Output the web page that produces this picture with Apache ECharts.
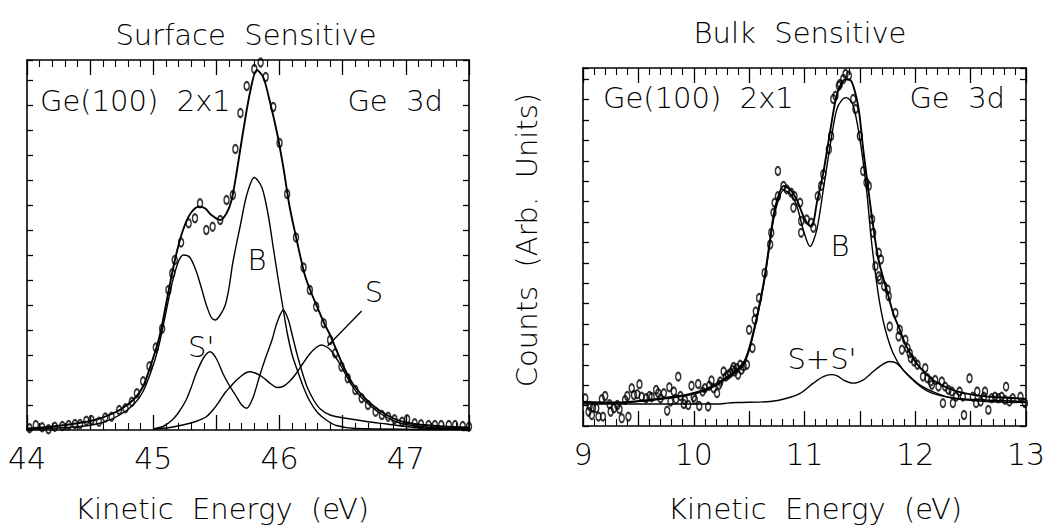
<!DOCTYPE html>
<html>
<head>
<meta charset="utf-8">
<script src="https://cdn.jsdelivr.net/npm/echarts@6/dist/echarts.min.js"></script>
<style>
  html, body { margin: 0; padding: 0; background: #fff; }
  #chart { width: 1057px; height: 526px; }
</style>
</head>
<body>
<div id="chart"></div>
<script>
// Ge 3d core-level photoemission from Ge(100) 2x1, measured at a surface-sensitive
// and a bulk-sensitive photon energy. Each panel: measured counts (open markers),
// total fit, and the fitted spin-orbit doublets.

// ---- Surface-sensitive panel: kinetic energy (eV) vs counts (arb.) ----
const surfaceRange = [44, 47.5];
const surfaceCountsMax = 14.8;

const surfaceData = [
  [44.02,0.07],[44.07,0.2],[44.12,0.11],[44.17,0.03],[44.22,0.13],[44.28,0.16],[44.33,0.2],
  [44.38,0.24],[44.42,0.24],[44.47,0.37],[44.51,0.4],[44.57,0.33],[44.62,0.5],[44.67,0.53],
  [44.73,0.8],[44.78,0.87],[44.83,1.13],[44.87,1.47],[44.92,1.95],[44.97,2.55],[45.02,3.3],
  [45.07,4.05],[45.12,5.6],[45.15,6.27],[45.17,6.8],[45.22,7.5],[45.28,8.27],[45.33,8.47],
  [45.37,9.07],[45.42,8.0],[45.47,8.13],[45.53,8.4],[45.58,9.2],[45.63,9.4],[45.65,11.24],
  [45.69,12.68],[45.74,13.76],[45.80,14.44],[45.85,14.7],[45.89,14.12],[45.95,12.92],
  [46.00,11.48],[46.06,9.44],[46.13,7.7],[46.19,6.5],[46.24,5.6],[46.29,4.93],[46.35,4.27],
  [46.40,3.6],[46.44,3.07],[46.49,2.53],[46.54,2.07],[46.60,1.6],[46.65,1.27],[46.70,1.0],
  [46.76,0.73],[46.81,0.6],[46.86,0.53],[46.91,0.43],[46.97,0.33],[47.01,0.43],[47.07,0.27],
  [47.12,0.23],[47.18,0.2],[47.23,0.2],[47.28,0.2],[47.34,0.2],[47.39,0.2],[47.45,0.16],[47.50,0.13]
];

const surfaceFit = [
  [44.00,0.06],[44.20,0.14],[44.40,0.27],[44.55,0.42],[44.65,0.6],[44.75,0.85],[44.85,1.25],
  [44.92,1.75],[45.00,2.9],[45.05,3.75],[45.10,5.0],[45.15,6.3],[45.20,7.4],[45.25,8.2],
  [45.30,8.7],[45.36,8.93],[45.41,8.87],[45.46,8.6],[45.53,8.4],[45.58,8.67],[45.62,9.2],
  [45.66,10.3],[45.71,11.9],[45.77,13.6],[45.82,14.4],[45.87,14.12],[45.92,13.2],[45.98,11.88],
  [46.03,10.5],[46.08,8.92],[46.14,7.5],[46.20,6.2],[46.25,5.5],[46.30,4.9],[46.35,4.3],
  [46.40,3.8],[46.45,3.2],[46.50,2.6],[46.55,2.1],[46.60,1.7],[46.70,1.15],[46.80,0.75],
  [46.90,0.47],[47.00,0.3],[47.10,0.22],[47.30,0.14],[47.50,0.1]
];

const surfaceB = [
  [44.00,0.03],[44.40,0.13],[44.60,0.3],[44.75,0.65],[44.85,1.05],[44.92,1.55],[45.00,2.6],
  [45.05,3.5],[45.10,4.7],[45.15,5.9],[45.20,6.75],[45.24,7.0],[45.29,6.9],[45.34,6.35],
  [45.38,5.7],[45.42,5.0],[45.46,4.5],[45.49,4.4],[45.53,4.6],[45.57,5.0],[45.60,5.7],
  [45.63,6.7],[45.69,8.2],[45.74,9.4],[45.80,10.1],[45.86,9.7],[45.91,8.6],[45.95,7.3],
  [45.99,6.0],[46.02,5.1],[46.06,3.9],[46.10,3.0],[46.14,2.4],[46.19,1.7],[46.24,1.15],
  [46.30,0.7],[46.37,0.4],[46.45,0.18],[46.60,0.06],[47.50,0.02]
];

const surfaceSPrime = [
  [45.00,0.04],[45.08,0.15],[45.15,0.4],[45.20,0.7],[45.26,1.2],[45.30,1.7],[45.34,2.27],
  [45.40,2.9],[45.45,3.13],[45.50,2.85],[45.55,2.27],[45.60,1.8],[45.65,1.4],[45.70,1.0],
  [45.74,0.87],[45.79,1.3],[45.84,2.13],[45.89,2.9],[45.94,3.6],[45.98,4.3],[46.03,4.8],
  [46.07,4.4],[46.10,3.8],[46.14,3.0],[46.18,2.3],[46.22,1.7],[46.27,1.2],[46.32,0.85],
  [46.40,0.6],[46.55,0.45],[46.70,0.33],[46.85,0.24],[47.00,0.14],[47.20,0.06],[47.50,0.03]
];

const surfaceS = [
  [45.00,0.03],[45.13,0.1],[45.25,0.22],[45.33,0.33],[45.42,0.53],[45.48,0.85],[45.53,1.2],
  [45.57,1.5],[45.61,1.73],[45.65,1.95],[45.69,2.13],[45.73,2.28],[45.77,2.33],[45.82,2.25],
  [45.87,2.1],[45.93,1.85],[45.98,1.7],[46.03,1.75],[46.08,1.95],[46.13,2.25],[46.19,2.7],
  [46.24,3.05],[46.29,3.3],[46.33,3.4],[46.38,3.3],[46.42,3.1],[46.47,2.7],[46.52,2.25],
  [46.57,1.8],[46.62,1.45],[46.70,1.05],[46.80,0.65],[46.90,0.38],[47.00,0.22],[47.20,0.1],[47.50,0.05]
];

// ---- Bulk-sensitive panel ----
const bulkRange = [9, 13];
const bulkCountsMax = 17.55;

const bulkData = [
  [9.02,1.36],[9.06,0.98],[9.05,0.70],[9.09,0.90],[9.08,0.54],[9.14,0.46],[9.18,0.46],[9.12,0.87],
  [9.17,1.31],[9.20,1.47],[9.24,1.07],[9.25,0.70],[9.28,0.87],[9.31,1.03],[9.33,0.82],[9.35,0.38],
  [9.41,0.46],[9.38,1.28],[9.40,1.47],[9.44,1.85],[9.46,1.52],[9.49,1.56],[9.51,2.05],[9.53,1.44],
  [9.57,1.36],[9.60,1.47],[9.62,1.41],[9.66,1.77],[9.68,1.61],[9.70,1.36],[9.73,1.61],[9.76,0.75],
  [9.78,1.90],[9.79,1.20],[9.82,1.69],[9.84,1.31],[9.86,2.42],[9.88,1.47],[9.91,1.08],[9.92,1.28],
  [9.95,1.03],[9.98,1.97],[10.00,1.41],[10.01,1.28],[10.04,2.06],[10.05,0.98],[10.08,1.69],
  [10.10,1.85],[10.13,0.95],[10.14,1.97],[10.16,2.23],[10.18,1.85],[10.21,1.61],[10.23,2.02],
  [10.24,2.18],[10.27,2.67],[10.29,2.42],[10.31,2.51],[10.33,2.59],[10.35,2.75],[10.36,2.89],
  [10.37,2.67],[10.39,2.84],[10.40,2.51],[10.42,3.0],[10.43,2.75],[10.45,2.92],[10.48,3.0],
  [10.50,4.72],[10.53,3.82],[10.55,5.21],[10.56,5.62],[10.59,6.28],[10.64,7.5],[10.69,8.9],
  [10.70,9.47],[10.72,10.46],[10.73,10.95],[10.76,11.27],[10.76,12.5],[10.81,11.77],[10.84,11.6],
  [10.88,11.44],[10.91,11.27],[10.90,10.7],[10.96,10.95],[10.97,10.05],[11.02,10.13],[11.06,9.97],
  [10.97,9.47],[11.08,9.72],[11.12,11.27],[11.15,11.77],[11.17,12.34],[11.22,13.57],[11.24,14.22],
  [11.26,16.03],[11.28,16.19],[11.31,16.68],[11.32,16.77],[11.35,17.01],[11.37,17.26],[11.40,17.17],
  [11.41,17.66],[11.44,16.03],[11.46,15.54],[11.50,14.22],[11.53,12.5],[11.56,11.93],[11.58,11.77],
  [11.61,10.13],[11.62,9.47],[11.64,7.83],[11.67,8.49],[11.67,7.34],[11.69,8.16],[11.68,7.18],
  [11.72,6.85],[11.75,6.69],[11.76,6.36],[11.77,4.88],[11.82,5.54],[11.86,4.72],[11.85,4.39],
  [11.91,4.23],[11.88,3.74],[11.93,3.82],[11.95,3.57],[11.96,3.33],[11.99,3.16],[12.02,3.0],
  [12.09,2.84],[12.07,2.42],[12.11,2.34],[12.14,2.18],[12.15,2.02],[12.18,2.26],[12.21,1.93],
  [12.24,2.18],[12.27,1.93],[12.30,1.77],[12.33,1.69],[12.25,1.12],[12.34,1.12],[12.37,1.44],
  [12.40,1.69],[12.43,1.44],[12.44,0.54],[12.49,2.34],[12.52,1.44],[12.55,1.12],[12.56,1.69],
  [12.59,1.2],[12.62,1.44],[12.63,1.69],[12.66,0.79],[12.69,1.36],[12.72,1.44],[12.75,1.36],
  [12.78,1.44],[12.81,1.28],[12.82,1.93],[12.85,1.2],[12.88,1.36],[12.95,1.44],[12.99,1.12]
];

const bulkFit = [
  [9.00,1.18],[9.30,1.15],[9.60,1.28],[9.80,1.42],[9.95,1.55],[10.10,1.78],[10.20,2.05],
  [10.30,2.4],[10.39,2.75],[10.45,3.1],[10.50,3.8],[10.56,5.1],[10.61,6.4],[10.64,7.3],
  [10.68,8.8],[10.72,10.3],[10.76,11.2],[10.81,11.77],[10.87,11.6],[10.93,11.1],[10.99,10.29],
  [11.05,9.8],[11.08,9.97],[11.11,10.9],[11.17,12.42],[11.23,14.39],[11.29,16.19],[11.35,16.93],
  [11.40,17.0],[11.44,16.68],[11.49,15.5],[11.53,13.57],[11.58,11.44],[11.62,9.8],[11.67,8.1],
  [11.75,6.52],[11.80,5.54],[11.86,4.72],[11.92,3.9],[12.01,3.08],[12.09,2.59],[12.18,2.18],
  [12.30,1.85],[12.44,1.61],[12.65,1.44],[12.91,1.36],[13.00,1.33]
];

const bulkB = [
  [9.00,1.15],[9.30,1.13],[9.60,1.25],[9.80,1.38],[9.95,1.5],[10.10,1.72],[10.20,1.98],
  [10.30,2.33],[10.39,2.67],[10.45,3.0],[10.50,3.7],[10.56,5.0],[10.61,6.3],[10.64,7.2],
  [10.68,8.65],[10.72,10.1],[10.76,11.0],[10.81,11.55],[10.87,11.4],[10.93,10.8],[10.99,9.6],
  [11.05,8.8],[11.11,9.6],[11.17,11.6],[11.23,13.7],[11.29,15.5],[11.34,16.0],[11.38,16.1],
  [11.44,15.7],[11.50,14.06],[11.56,11.6],[11.60,9.3],[11.64,7.5],[11.68,6.0],[11.73,4.72],
  [11.80,3.57],[11.89,2.75],[12.01,2.1],[12.12,1.69],[12.27,1.44],[12.47,1.31],[12.79,1.24],[13.00,1.2]
];

const bulkSurface = [
  [9.00,1.08],[10.24,1.08],[10.30,1.12],[10.39,1.15],[10.69,1.2],[10.84,1.36],[10.96,1.6],
  [11.08,2.1],[11.17,2.42],[11.24,2.52],[11.30,2.45],[11.35,2.26],[11.44,2.1],[11.53,2.26],
  [11.62,2.67],[11.70,3.0],[11.77,3.16],[11.83,3.08],[11.92,2.59],[12.04,2.02],[12.19,1.61],
  [12.34,1.36],[12.64,1.2],[13.00,1.15]
];

// ---- drawing ----
const FONT = '"DejaVu Sans", "Liberation Sans", sans-serif';
const WEIGHT = 200;
const INK = '#000';

function energyAxis(gridIndex, range, position) {
  return {
    type: 'value', gridIndex, min: range[0], max: range[1], interval: 0.5, position,
    axisLine: { show: true, onZero: false, lineStyle: { color: INK, width: 1.6 } },
    axisTick: { show: true, inside: true, length: 15, lineStyle: { color: INK, width: 1.3 } },
    minorTick: { show: true, splitNumber: 5, length: 7, lineStyle: { color: INK, width: 1.1 } },
    splitLine: { show: false }, minorSplitLine: { show: false },
    axisLabel: {
      show: position === 'bottom', margin: 13, fontSize: 30, fontFamily: FONT, fontWeight: WEIGHT, color: INK,
      formatter: v => Math.abs(v - Math.round(v)) < 1e-6 ? String(Math.round(v)) : ''
    }
  };
}

function countsAxis(gridIndex, max, position) {
  return {
    type: 'value', gridIndex, min: 0, max, interval: 1, position,
    axisLine: { show: true, onZero: false, lineStyle: { color: INK, width: 1.6 } },
    axisTick: { show: true, inside: true, length: 6, lineStyle: { color: INK, width: 1.3 } },
    axisLabel: { show: false }, splitLine: { show: false }
  };
}

function curve(data, xi, yi, width) {
  return {
    type: 'line', data, xAxisIndex: xi, yAxisIndex: yi, showSymbol: false, smooth: 0.3,
    lineStyle: { color: INK, width }, z: 2, silent: true
  };
}

function points(data, xi, yi) {
  return {
    type: 'scatter', data, xAxisIndex: xi, yAxisIndex: yi, symbol: 'circle', symbolSize: [5, 8],
    itemStyle: { color: 'rgba(0,0,0,0)', borderColor: INK, borderWidth: 1.8 }, z: 3, silent: true
  };
}

function label(text, x, y, align, size) {
  return {
    type: 'text', x, y, silent: true,
    style: {
      text, fill: INK, font: `${WEIGHT} ${size || 29}px ${FONT}`,
      textAlign: align || 'center', textVerticalAlign: 'middle'
    }
  };
}

const chart = echarts.init(document.getElementById('chart'), null, { renderer: 'svg' });

const sLine = curve(surfaceS, 0, 0, 1.4);
sLine.markLine = {
  silent: true, symbol: 'none', label: { show: false },
  lineStyle: { color: INK, width: 1.3, type: 'solid' },
  data: [[{ coord: [46.65, 4.76] }, { coord: [46.38, 3.36] }]]
};

chart.setOption({
  animation: false,
  backgroundColor: '#fff',
  grid: [
    { left: 27, top: 60, width: 442, height: 370 },
    { left: 583, top: 68, width: 443, height: 358 }
  ],
  xAxis: [
    energyAxis(0, surfaceRange, 'bottom'),
    energyAxis(0, surfaceRange, 'top'),
    energyAxis(1, bulkRange, 'bottom'),
    energyAxis(1, bulkRange, 'top')
  ],
  yAxis: [
    countsAxis(0, surfaceCountsMax, 'left'),
    countsAxis(0, surfaceCountsMax, 'right'),
    countsAxis(1, bulkCountsMax, 'left'),
    countsAxis(1, bulkCountsMax, 'right')
  ],
  series: [
    curve(surfaceFit, 0, 0, 1.9),
    curve(surfaceB, 0, 0, 1.4),
    curve(surfaceSPrime, 0, 0, 1.4),
    sLine,
    points(surfaceData, 0, 0),
    curve(bulkFit, 2, 2, 1.9),
    curve(bulkB, 2, 2, 1.4),
    curve(bulkSurface, 2, 2, 1.4),
    points(bulkData, 2, 2)
  ],
  graphic: [
    label('Surface  Sensitive', 246, 35, 'center', 29),
    label('Bulk  Sensitive', 800, 33, 'center', 29),
    label('Kinetic  Energy  (eV)', 222, 509, 'center', 29),
    label('Kinetic  Energy  (eV)', 815, 509, 'center', 29),
    label('Ge(100)  2x1', 40, 101, 'left', 29),
    label('Ge  3d', 443, 101, 'right', 29),
    label('Ge(100)  2x1', 603, 98, 'left', 29),
    label('Ge  3d', 1005, 98, 'right', 29),
    label('B', 257, 260, 'center', 29),
    label("S'", 188, 347, 'left', 29),
    label('S', 374, 292, 'center', 29),
    label('B', 840, 246, 'center', 29),
    label("S+S'", 822, 359, 'center', 29),
    Object.assign(label('Counts  (Arb.  Units)', 527, 240, 'center', 29), { rotation: Math.PI / 2 })
  ]
});
</script>
</body>
</html>
